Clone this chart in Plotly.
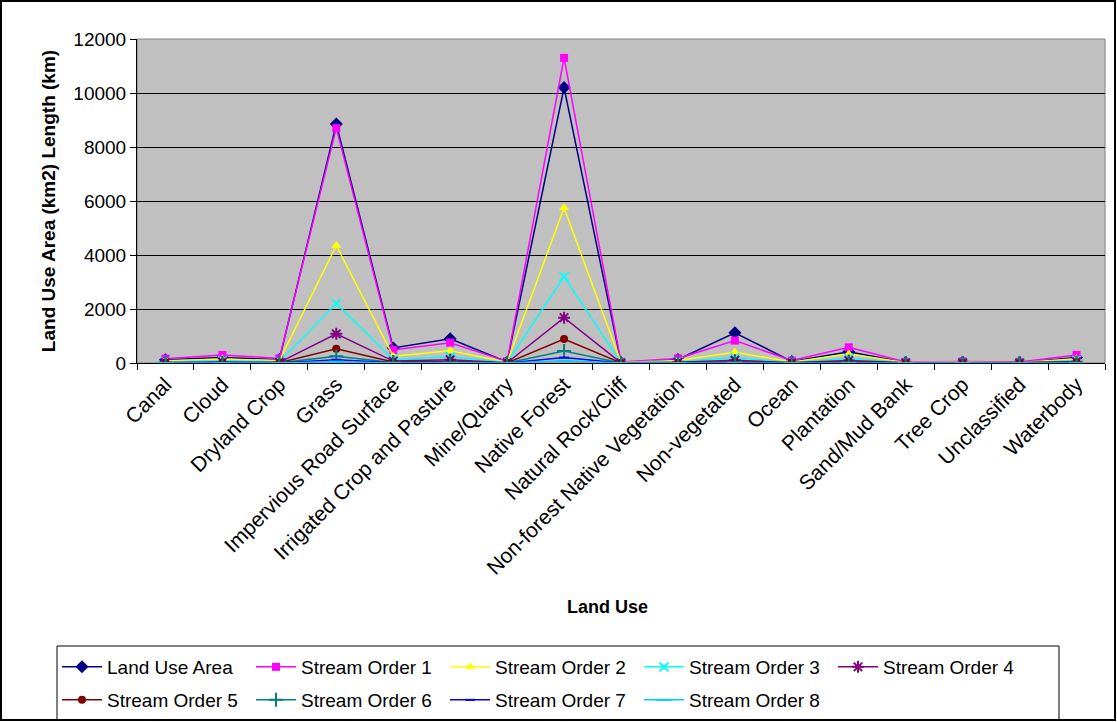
import plotly.graph_objects as go

categories = ["Canal", "Cloud", "Dryland Crop", "Grass", "Impervious Road Surface",
              "Irrigated Crop and Pasture", "Mine/Quarry", "Native Forest",
              "Natural Rock/Cliff", "Non-forest Native Vegetation", "Non-vegetated",
              "Ocean", "Plantation", "Sand/Mud Bank", "Tree Crop", "Unclassified",
              "Waterbody"]

land_use_area = [120, 200, 130, 8850, 560, 900, 40, 10200, 20, 130, 1120, 60, 420, 20, 30, 20, 200]
stream_order_1 = [160, 300, 170, 8700, 480, 750, 60, 11300, 40, 170, 830, 90, 580, 40, 60, 40, 300]
stream_order_2 = [80, 150, 90, 4350, 250, 450, 30, 5750, 20, 90, 400, 40, 330, 20, 30, 20, 160]
stream_order_3 = [40, 80, 45, 2200, 130, 230, 15, 3200, 10, 45, 200, 20, 170, 10, 15, 10, 90]
stream_order_4 = [20, 40, 25, 1080, 70, 120, 8, 1680, 5, 25, 100, 10, 90, 5, 8, 5, 50]
stream_order_5 = [10, 20, 12, 530, 35, 60, 4, 890, 3, 12, 50, 5, 45, 3, 4, 3, 25]
stream_order_6 = [5, 10, 6, 250, 18, 30, 2, 440, 2, 6, 25, 3, 22, 2, 2, 2, 12]
stream_order_7 = [3, 5, 3, 120, 9, 15, 1, 200, 1, 3, 12, 1, 11, 1, 1, 1, 6]
stream_order_8 = [1, 2, 1, 50, 4, 7, 0, 80, 0, 1, 5, 0, 5, 0, 0, 0, 3]

series = [
    ("Land Use Area", land_use_area, "#000080", "diamond", 10, "legend"),
    ("Stream Order 1", stream_order_1, "#FF00FF", "square", 8, "legend"),
    ("Stream Order 2", stream_order_2, "#FFFF00", "triangle-up", 9, "legend"),
    ("Stream Order 3", stream_order_3, "#00FFFF", "x-thin", 9, "legend"),
    ("Stream Order 4", stream_order_4, "#800080", "asterisk", 10, "legend"),
    ("Stream Order 5", stream_order_5, "#800000", "circle", 8, "legend2"),
    ("Stream Order 6", stream_order_6, "#008080", "cross-thin", 10, "legend2"),
    ("Stream Order 7", stream_order_7, "#0000FF", "line-ew", 7, "legend2"),
    ("Stream Order 8", stream_order_8, "#00CCFF", "line-ew", 11, "legend2"),
]

FONT = "Arial, Liberation Sans, sans-serif"

fig = go.Figure()
for name, vals, color, sym, size, leg in series:
    open_sym = sym in ("x-thin", "asterisk", "cross-thin", "line-ew")
    fig.add_trace(go.Scatter(
        x=categories, y=vals, name=name, mode="lines+markers", legend=leg,
        line=dict(color=color, width=1.5),
        marker=dict(symbol=sym, size=size, color=color,
                    line=dict(color=color, width=2 if open_sym else 0)),
    ))

W, H = 1117, 722
L, R, T, B = 137, 12, 39, 359
pw, ph = W - L - R, H - T - B

def px_x(x):
    return (x - L) / pw

def px_y(y):
    return (H - B - y) / ph

leg_common = dict(
    orientation="h", xanchor="left", yanchor="middle",
    borderwidth=0, bgcolor="rgba(0,0,0,0)",
    font=dict(family=FONT, size=19, color="black"),
    entrywidth=139, entrywidthmode="pixels",
    itemwidth=40, tracegroupgap=0,
)

fig.update_layout(
    width=W, height=H,
    margin=dict(l=L, r=R, t=T, b=B, autoexpand=False),
    paper_bgcolor="white",
    plot_bgcolor="#C0C0C0",
    font=dict(family=FONT, size=18, color="black"),
    showlegend=True,
    legend=dict(x=px_x(57), y=px_y(667), **leg_common),
    legend2=dict(x=px_x(57), y=px_y(700), **leg_common),
    xaxis=dict(
        type="category", range=[-0.5, 16.5],
        tickson="boundaries", ticks="outside", ticklen=6, tickcolor="black",
        showline=True, linecolor="black", linewidth=1,
        showgrid=False, tickangle=-45,
        tickfont=dict(family=FONT, size=21, color="black"),
    ),
    yaxis=dict(
        range=[0, 12000], dtick=2000, tickformat="d",
        ticks="outside", ticklen=6, tickcolor="black",
        showline=True, linecolor="black", linewidth=1,
        showgrid=True, gridcolor="black", gridwidth=1,
        tickfont=dict(family=FONT, size=19, color="black"),
        zeroline=False,
        title=dict(text="<b>Land Use Area (km2) Length (km)</b>",
                   font=dict(family=FONT, size=19, color="black"), standoff=12),
    ),
    annotations=[
        dict(text="<b>Land Use</b>", xref="paper", yref="paper",
             x=px_x(607), y=px_y(607), xanchor="center", yanchor="middle",
             showarrow=False, font=dict(family=FONT, size=18, color="black")),
    ],
    shapes=[
        dict(type="rect", xref="paper", yref="paper", x0=0, x1=1, y0=0, y1=1,
             line=dict(color="#808080", width=1), layer="below"),
        dict(type="rect", xref="paper", yref="paper",
             x0=px_x(57), x1=px_x(1059), y0=px_y(720), y1=px_y(646),
             line=dict(color="black", width=1)),
        dict(type="rect", xref="paper", yref="paper",
             x0=px_x(1), x1=px_x(1115), y0=px_y(720), y1=px_y(1),
             line=dict(color="black", width=2)),
    ],
)

fig.write_html("out.html", config={"displayModeBar": False},
               post_script="document.body.style.margin='0';document.body.style.overflow='hidden';")
